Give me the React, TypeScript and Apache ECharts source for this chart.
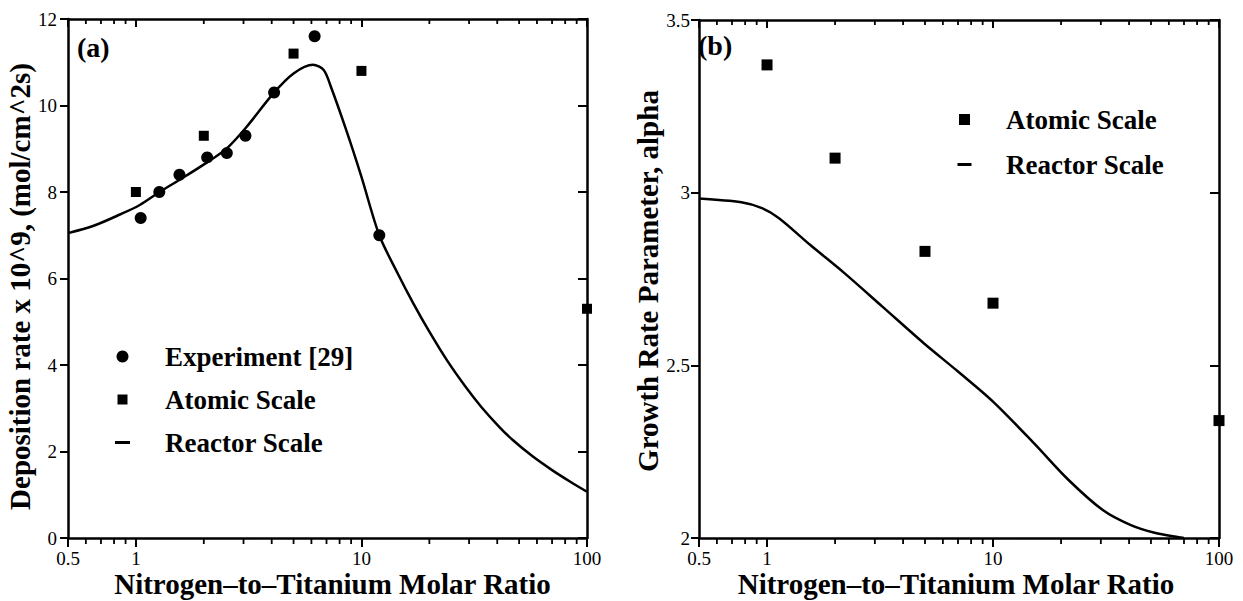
import React, { useEffect, useRef } from "react";
import * as echarts from "echarts";

// ---------- data ----------
const expX = [1.05, 1.27, 1.56, 2.07, 2.53, 3.06, 4.1, 6.2, 12];
const expY = [7.4, 8.0, 8.4, 8.8, 8.9, 9.3, 10.3, 11.6, 7.0];

const atomAX = [1, 2, 5, 10, 100];
const atomAY = [8.0, 9.3, 11.2, 10.8, 5.3];

const reactAX = [0.5, 0.65, 0.85, 1.04, 1.28, 1.57, 2.06, 2.53, 3.1, 4.07, 5.0, 6.1, 6.8, 7.3, 8.6, 10, 12, 14.5, 17, 20, 24, 29, 34, 41, 47, 57, 70, 85, 100];
const reactAY = [7.05, 7.22, 7.48, 7.7, 8.01, 8.29, 8.68, 9.01, 9.51, 10.28, 10.74, 10.94, 10.82, 10.45, 9.4, 8.35, 7.0, 6.11, 5.42, 4.77, 4.1, 3.49, 3.03, 2.56, 2.26, 1.9, 1.57, 1.29, 1.07];

const atomBX = [1, 2, 5, 10, 100];
const atomBY = [3.37, 3.1, 2.83, 2.68, 2.34];

const reactBX = [0.5, 0.77, 0.95, 1.13, 1.55, 2.2, 3.24, 4.94, 7.0, 10, 15.2, 21.6, 30.6, 40.5, 51.9, 66.3, 70];
const reactBY = [2.983, 2.972, 2.955, 2.926, 2.849, 2.767, 2.67, 2.564, 2.482, 2.395, 2.274, 2.168, 2.081, 2.038, 2.015, 2.002, 2.0];

const xMinorTicks = [0.6, 0.7, 0.8, 0.9, 2, 3, 4, 5, 6, 7, 8, 9, 20, 30, 40, 50, 60, 70, 80, 90];

const xTitle = "Nitrogen\u2013to\u2013Titanium Molar Ratio";
const yTitleA = "Deposition rate x 10^9, (mol/cm^2s)";
const yTitleB = "Growth Rate Parameter, alpha";

const zip = (xs: number[], ys: number[]) => xs.map((x, i) => [x, ys[i]]);

const FONT = "'Liberation Serif', 'Times New Roman', Times, serif";
const BLACK = "#000";

function buildOption() {
  const axisLine = { show: true, onZero: false, lineStyle: { color: BLACK, width: 2.5 } };
  const fmt = (v: number) => String(Number(Number(v).toPrecision(4)));
  const tickLabel = { color: BLACK, fontSize: 19, fontFamily: FONT };
  const titleStyle = { color: BLACK, fontSize: 29, fontWeight: "bold", fontFamily: FONT };

  const xBottom = (grid: number, pad: number[]) => ({
    type: "log", logBase: 10, gridIndex: grid, min: 0.5, max: 100, position: "bottom",
    axisLine, splitLine: { show: false }, minorTick: { show: false },
    axisTick: { show: true, inside: false, length: 9, lineStyle: { color: BLACK, width: 2 } },
    axisLabel: { ...tickLabel, margin: 11, formatter: fmt, showMinLabel: true, showMaxLabel: true },
    name: xTitle, nameLocation: "middle", nameGap: 31, nameMoveOverlap: false,
    nameTextStyle: { ...titleStyle, padding: pad },
  });
  const xTop = (grid: number) => ({
    type: "log", logBase: 10, gridIndex: grid, min: 0.5, max: 100, position: "top",
    axisLine, splitLine: { show: false },
    axisTick: { show: true, inside: true, length: 8, lineStyle: { color: BLACK, width: 2 } },
    axisLabel: { show: false },
  });
  const yLeft = (grid: number, min: number, max: number, interval: number, name: string, gap: number, pad: number[], margin: number) => ({
    type: "value", gridIndex: grid, min, max, interval, position: "left",
    axisLine, splitLine: { show: false },
    axisTick: { show: true, inside: false, length: 8, lineStyle: { color: BLACK, width: 2 } },
    axisLabel: { ...tickLabel, margin },
    name, nameLocation: "middle", nameGap: gap,
    nameTextStyle: { ...titleStyle, padding: pad },
  });
  const yRight = (grid: number, min: number, max: number, interval: number) => ({
    type: "value", gridIndex: grid, min, max, interval, position: "right",
    axisLine, splitLine: { show: false },
    axisTick: { show: true, inside: true, length: 9, lineStyle: { color: BLACK, width: 2 } },
    axisLabel: { show: false },
  });

  // minor log ticks: bottom ones point outward (down), top ones point inward (down)
  const minorTickSeries = (xi: number, yi: number, yMin: number, yMax: number) => ({
    type: "custom", xAxisIndex: xi, yAxisIndex: yi, silent: true, clip: false, z: 10,
    data: xMinorTicks.map((v) => [v, yMin, yMax]),
    encode: { x: 0, y: 1 },
    renderItem: (params: any, api: any) => {
      const pb = api.coord([api.value(0), api.value(1)]);
      const pt = api.coord([api.value(0), api.value(2)]);
      const st = { stroke: BLACK, lineWidth: 1.8, fill: null };
      return {
        type: "group",
        children: [
          { type: "line", shape: { x1: pb[0], y1: pb[1], x2: pb[0], y2: pb[1] + 6 }, style: st },
          { type: "line", shape: { x1: pt[0], y1: pt[1], x2: pt[0], y2: pt[1] + 5 }, style: st },
        ],
      };
    },
  });

  const sqA = "path://M0,0M15,12M2.5,1H12.5V11H2.5Z";
  const dashA = "path://M0,0M15,12M0,4.5H15V7.5H0Z";
  const sqB = "path://M0,0M15,12M2,0.5H13V11.5H2Z";
  const dashB = "path://M0,0M15,12M0.5,4.5H14.5V7.5H0.5Z";
  const legendText = { color: BLACK, fontSize: 27, fontWeight: "bold", fontFamily: FONT };
  const sym = { color: BLACK, opacity: 1 };

  return {
    animation: false,
    backgroundColor: "#fff",
    grid: [
      { left: 68, top: 19, width: 519, height: 519, containLabel: false, outerBoundsMode: "none" },
      { left: 699, top: 20, width: 520, height: 518, containLabel: false, outerBoundsMode: "none" },
    ],
    xAxis: [xBottom(0, [0, 0, 0, 10]), xTop(0), xBottom(1, [0, 6, 0, 0]), xTop(1)],
    yAxis: [
      yLeft(0, 0, 12, 2, yTitleA, 30, [0, 16, 0, 0], 11),
      yRight(0, 0, 12, 2),
      yLeft(1, 2, 3.5, 0.5, yTitleB, 36, [0, 4, 0, 0], 9),
      yRight(1, 2, 3.5, 0.5),
    ],
    legend: [
      {
        left: 115, top: 343, orient: "vertical", padding: 0, itemGap: 16,
        itemWidth: 15, itemHeight: 12, selectedMode: false,
        itemStyle: { color: BLACK, borderWidth: 0, opacity: 1 },
        textStyle: { ...legendText, padding: [0, 0, 0, 30] },
        data: [
          { name: "Experiment [29]", icon: "circle" },
          { name: "Atomic Scale", icon: sqA },
          { name: "Reactor Scale", icon: dashA },
        ],
      },
      {
        left: 957, top: 106, orient: "vertical", padding: 0, itemGap: 18,
        itemWidth: 15, itemHeight: 12, selectedMode: false,
        itemStyle: { color: BLACK, borderWidth: 0, opacity: 1 },
        textStyle: { ...legendText, padding: [0, 0, 0, 29] },
        data: [
          { name: "Atomic Scale", icon: sqB },
          { name: "Reactor Scale", icon: dashB },
        ],
      },
    ],
    graphic: [
      { type: "text", left: 77, top: 33, style: { text: "(a)", font: `bold 28px ${FONT}`, fill: BLACK } },
      { type: "text", left: 698, top: 31, style: { text: "(b)", font: `bold 28px ${FONT}`, fill: BLACK } },
    ],
    series: [
      {
        name: "Experiment [29]", type: "scatter", xAxisIndex: 0, yAxisIndex: 0,
        symbol: "circle", symbolSize: 12, itemStyle: sym,
        data: zip(expX, expY), z: 4,
      },
      {
        name: "Atomic Scale", type: "scatter", xAxisIndex: 0, yAxisIndex: 0,
        symbol: "rect", symbolSize: 10, itemStyle: sym,
        data: zip(atomAX, atomAY), z: 4,
      },
      {
        name: "Reactor Scale", type: "line", xAxisIndex: 0, yAxisIndex: 0,
        showSymbol: false, smooth: 0.3,
        lineStyle: { color: BLACK, width: 2.5 },
        itemStyle: sym, data: zip(reactAX, reactAY), z: 3,
      },
      {
        name: "Atomic Scale", type: "scatter", xAxisIndex: 2, yAxisIndex: 2,
        symbol: "rect", symbolSize: 11, itemStyle: sym,
        data: zip(atomBX, atomBY), z: 4,
      },
      {
        name: "Reactor Scale", type: "line", xAxisIndex: 2, yAxisIndex: 2,
        showSymbol: false, smooth: 0.3,
        lineStyle: { color: BLACK, width: 2.5 },
        itemStyle: sym, data: zip(reactBX, reactBY), z: 3,
      },
      minorTickSeries(0, 0, 0, 12),
      minorTickSeries(2, 2, 2, 3.5),
    ],
  };
}

export default function App() {
  const ref = useRef<HTMLDivElement>(null);
  useEffect(() => {
    if (!ref.current) return;
    const chart = echarts.init(ref.current, undefined, { renderer: "svg" });
    chart.setOption(buildOption() as any);
    return () => chart.dispose();
  }, []);
  return (
    <div
      ref={ref}
      style={{ position: "absolute", left: 0, top: 0, width: 1243, height: 601, background: "#fff" }}
    />
  );
}
